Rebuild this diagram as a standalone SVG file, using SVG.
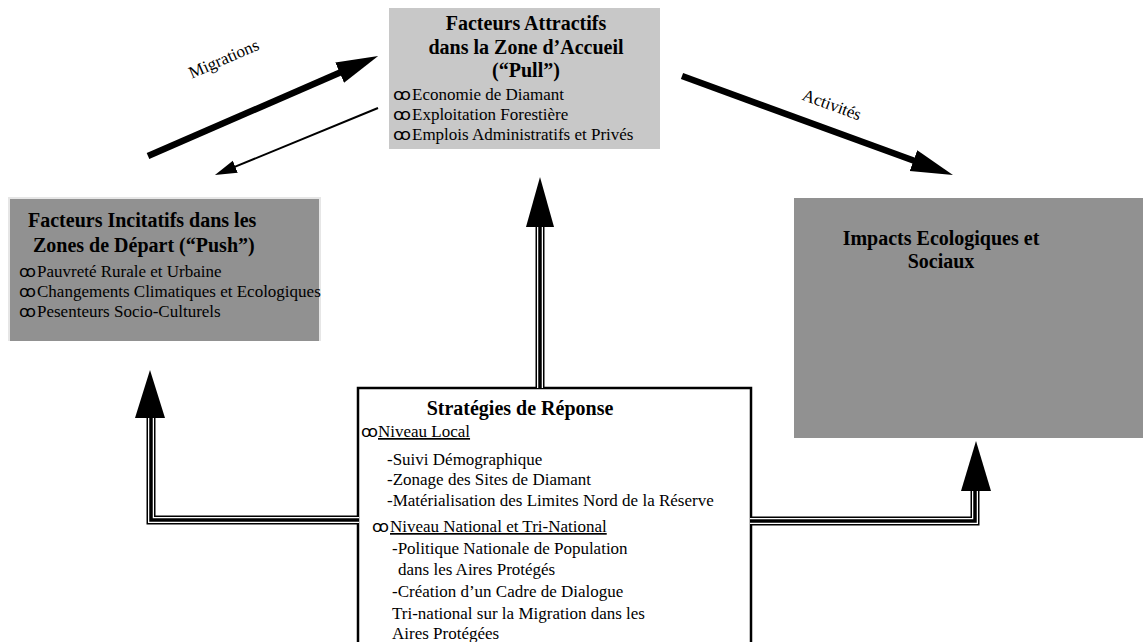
<svg xmlns="http://www.w3.org/2000/svg" width="1143" height="642" viewBox="0 0 1143 642">
<style>
text{font-family:"Liberation Serif","Times New Roman",serif;fill:#000;}
.t{font-size:20px;font-weight:bold;}
.b{font-size:17px;}
.bul{font-family:"DejaVu Sans","Noto Sans",sans-serif;font-size:16px;}
.u{text-decoration:underline;}
.o{fill:none;stroke:#000;stroke-width:9;stroke-linejoin:miter;}
.w{fill:none;stroke:#fff;stroke-width:6;stroke-linejoin:miter;}
.c{fill:none;stroke:#000;stroke-width:3.5;stroke-linejoin:miter;}
.thick{stroke:#000;stroke-width:6.5;fill:none;}
.thin{stroke:#000;stroke-width:2;fill:none;}
</style>
<defs>
<marker id="hThick" markerUnits="userSpaceOnUse" markerWidth="42" markerHeight="24" refX="8" refY="11" orient="auto">
<path d="M0,0 L42,11 L0,22 z" fill="#000"/>
</marker>
<marker id="hThin" markerUnits="userSpaceOnUse" markerWidth="22" markerHeight="14" refX="4" refY="6.5" orient="auto">
<path d="M0,0 L22,6.5 L0,13 z" fill="#000"/>
</marker>
</defs>
<rect width="1143" height="642" fill="#fff"/>

<g id="pull">
<rect x="389" y="8" width="271" height="141" fill="#c8c8c8"/>
<text class="t" x="526" y="30" text-anchor="middle">Facteurs Attractifs</text>
<text class="t" x="526" y="54" text-anchor="middle">dans la Zone d’Accueil</text>
<text class="t" x="526" y="77" text-anchor="middle">(“Pull”)</text>
<text class="bul" x="393" y="100" textLength="18" lengthAdjust="spacingAndGlyphs">ꝏ</text><text class="b" x="412" y="100">Economie de Diamant</text>
<text class="bul" x="393" y="120" textLength="18" lengthAdjust="spacingAndGlyphs">ꝏ</text><text class="b" x="412" y="120">Exploitation Forestière</text>
<text class="bul" x="393" y="140" textLength="18" lengthAdjust="spacingAndGlyphs">ꝏ</text><text class="b" x="412" y="140">Emplois Administratifs et Privés</text>
</g>

<g id="push">
<rect x="8" y="197" width="312" height="144" fill="#919191"/>
<path d="M9,341 V198 H320 V341" fill="none" stroke="#e6e6e6" stroke-width="2"/>
<text class="t" x="28" y="227">Facteurs Incitatifs dans les</text>
<text class="t" x="33" y="252">Zones de Départ (“Push”)</text>
<text class="bul" x="19" y="277" textLength="17" lengthAdjust="spacingAndGlyphs">ꝏ</text><text class="b" x="37" y="277">Pauvreté Rurale et Urbaine</text>
<text class="bul" x="19" y="297" textLength="17" lengthAdjust="spacingAndGlyphs">ꝏ</text><text class="b" x="37" y="297">Changements Climatiques et Ecologiques</text>
<text class="bul" x="19" y="317" textLength="17" lengthAdjust="spacingAndGlyphs">ꝏ</text><text class="b" x="37" y="317">Pesenteurs Socio-Culturels</text>
</g>

<g id="impacts">
<rect x="794" y="198" width="349" height="240" fill="#919191"/>
<text class="t" x="941" y="245" text-anchor="middle">Impacts Ecologiques et</text>
<text class="t" x="941" y="268" text-anchor="middle">Sociaux</text>
</g>

<g id="strategies">
<rect x="358" y="388" width="393" height="262" fill="#fff" stroke="#000" stroke-width="2.5"/>
<text class="t" x="520" y="415" text-anchor="middle">Stratégies de Réponse</text>
<text class="bul" x="361" y="437" textLength="17" lengthAdjust="spacingAndGlyphs">ꝏ</text><text class="b u" x="378" y="437">Niveau Local</text>
<text class="b" x="387" y="465">-Suivi Démographique</text>
<text class="b" x="387" y="485">-Zonage des Sites de Diamant</text>
<text class="b" x="387" y="506">-Matérialisation des Limites Nord de la Réserve</text>
<text class="bul" x="372" y="532" textLength="17" lengthAdjust="spacingAndGlyphs">ꝏ</text><text class="b u" x="390" y="532">Niveau National et Tri-National</text>
<text class="b" x="392" y="554">-Politique Nationale de Population</text>
<text class="b" x="398" y="575">dans les Aires Protégés</text>
<text class="b" x="392" y="597">-Création d’un Cadre de Dialogue</text>
<text class="b" x="392" y="619">Tri-national sur la Migration dans les</text>
<text class="b" x="392" y="639">Aires Protégées</text>
</g>

<g id="connectors">
<line class="thick" x1="148" y1="156" x2="347" y2="69.5" marker-end="url(#hThick)"/>
<line class="thin" x1="378" y1="108" x2="231.6" y2="168.2" marker-end="url(#hThin)"/>
<line class="thick" x1="682" y1="76" x2="921" y2="163.3" marker-end="url(#hThick)"/>
<text class="b" x="0" y="0" transform="translate(226,64) rotate(-23.5)" text-anchor="middle">Migrations</text>
<text class="b" x="0" y="0" transform="translate(830,110) rotate(20)" text-anchor="middle">Activités</text>

<polyline class="o" points="540,388 540,222"/>
<polyline class="w" points="540,388 540,222"/>
<polyline class="c" points="540,388 540,222"/>
<polygon points="540,177 526,227 554,227" fill="#000"/>

<polyline class="o" points="359,520 151,520 151,413"/>
<polyline class="w" points="359,520 151,520 151,413"/>
<polyline class="c" points="359,520 151,520 151,413"/>
<polygon points="150,370 135,418 165,418" fill="#000"/>

<polyline class="o" points="750,521 975,521 975,486"/>
<polyline class="w" points="750,521 975,521 975,486"/>
<polyline class="c" points="750,521 975,521 975,486"/>
<polygon points="976,441 961,491 991,491" fill="#000"/>
</g>
</svg>
